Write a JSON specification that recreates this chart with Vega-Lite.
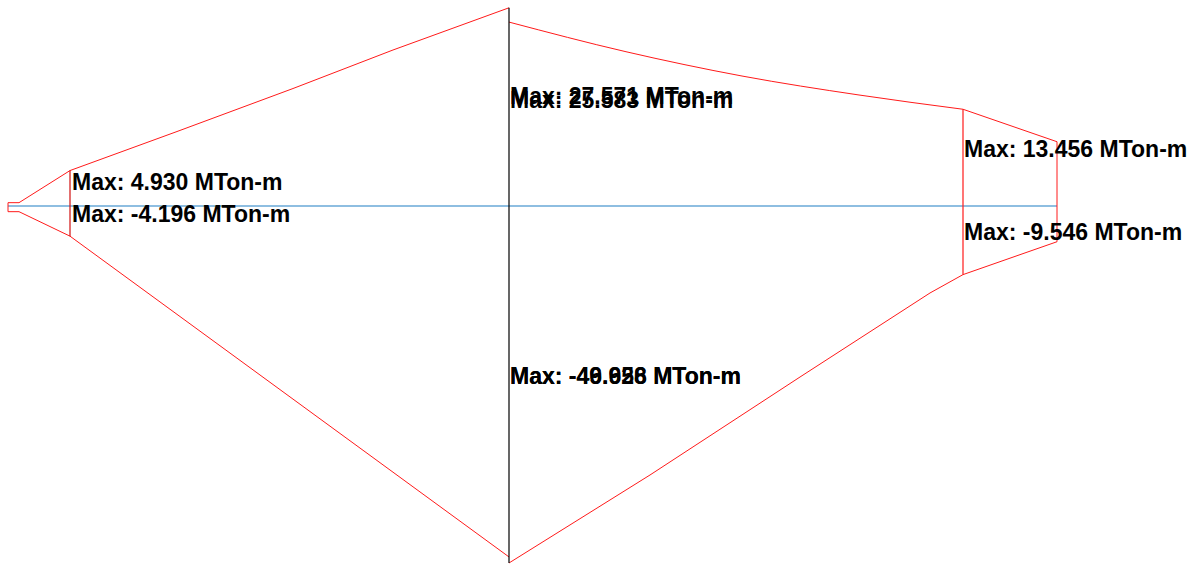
{
  "$schema": "https://vega.github.io/schema/vega-lite/v6.json",
  "width": 1202,
  "height": 565,
  "autosize": {"type": "fit", "contains": "padding"},
  "padding": 0,
  "background": "white",
  "config": {"view": {"stroke": null}},
  "datasets": {
    "envelope": [
      {"seg": "topLeft", "ord": 1, "station": 8, "moment": 0.46},
      {"seg": "topLeft", "ord": 2, "station": 19, "moment": 0.46},
      {"seg": "topLeft", "ord": 3, "station": 70, "moment": 4.93},
      {"seg": "topLeft", "ord": 4, "station": 177, "moment": 10.36},
      {"seg": "topLeft", "ord": 5, "station": 293, "moment": 16.34},
      {"seg": "topLeft", "ord": 6, "station": 393, "moment": 21.7},
      {"seg": "topLeft", "ord": 7, "station": 509, "moment": 27.571},
      {"seg": "topRightCurve", "ord": 8, "station": 509, "moment": 25.583},
      {"seg": "topRightCurve", "ord": 9, "station": 626, "moment": 21.46},
      {"seg": "topRightCurve", "ord": 10, "station": 742, "moment": 18.08},
      {"seg": "topRightCurve", "ord": 11, "station": 859, "moment": 15.44},
      {"seg": "topRightCurve", "ord": 12, "station": 963, "moment": 13.456},
      {"seg": "rightEnd", "ord": 12, "station": 963, "moment": 13.456},
      {"seg": "rightEnd", "ord": 13, "station": 1057, "moment": 8.94},
      {"seg": "rightEnd", "ord": 14, "station": 1057, "moment": -4.97},
      {"seg": "rightEnd", "ord": 15, "station": 963, "moment": -9.546},
      {"seg": "bottomRight", "ord": 15, "station": 963, "moment": -9.546},
      {"seg": "bottomRight", "ord": 16, "station": 930, "moment": -12.1},
      {"seg": "bottomRight", "ord": 17, "station": 800, "moment": -23.79},
      {"seg": "bottomRight", "ord": 18, "station": 650, "moment": -37.42},
      {"seg": "bottomRight", "ord": 19, "station": 509, "moment": -49.66},
      {"seg": "bottomLeft", "ord": 20, "station": 509, "moment": -48.82},
      {"seg": "bottomLeft", "ord": 21, "station": 70, "moment": -4.196},
      {"seg": "bottomLeft", "ord": 22, "station": 19, "moment": -0.79},
      {"seg": "bottomLeft", "ord": 23, "station": 8, "moment": -0.79},
      {"seg": "bottomLeft", "ord": 24, "station": 8, "moment": 0.46}
    ],
    "verticals": [
      {"station": 70, "top": 4.93, "bottom": -4.196, "kind": "a"},
      {"station": 509, "top": 27.571, "bottom": -49.66, "kind": "b"},
      {"station": 963, "top": 13.456, "bottom": -9.546, "kind": "c"}
    ],
    "axis": [
      {"start": 8, "end": 1057, "moment": 0}
    ],
    "labels": [
      {"station": 72, "moment": 2.226, "label": "Max: 4.930 MTon-m"},
      {"station": 72, "moment": -2.226, "label": "Max: -4.196 MTon-m"},
      {"station": 510, "moment": 14.19, "label": "Max: 27.571 MTon-m"},
      {"station": 510, "moment": 13.7, "label": "Max: 25.583 MTon-m"},
      {"station": 510, "moment": -24.76, "label": "Max: -46.658 MTon-m"},
      {"station": 510, "moment": -24.83, "label": "Max: -49.926 MTon-m"},
      {"station": 964, "moment": 6.82, "label": "Max: 13.456 MTon-m"},
      {"station": 964, "moment": -4.73, "label": "Max: -9.546 MTon-m"}
    ]
  },
  "layer": [
    {
      "data": {"name": "axis"},
      "mark": {"type": "rule", "color": "#1f7fc4", "strokeWidth": 1.2},
      "encoding": {
        "x": {"field": "start", "type": "quantitative", "scale": {"domain": [0, 1202], "nice": false, "zero": false}, "axis": null},
        "x2": {"field": "end"},
        "y": {"field": "moment", "type": "quantitative", "scale": {"domain": [-49.94, 28.655], "nice": false, "zero": false}, "axis": null}
      }
    },
    {
      "data": {"name": "envelope"},
      "transform": [{"filter": "datum.seg !== 'topRightCurve'"}],
      "mark": {"type": "line", "color": "#ff1a1a", "strokeWidth": 1},
      "encoding": {
        "x": {"field": "station", "type": "quantitative"},
        "y": {"field": "moment", "type": "quantitative"},
        "detail": {"field": "seg", "type": "nominal"},
        "order": {"field": "ord", "type": "quantitative"}
      }
    },
    {
      "data": {"name": "envelope"},
      "transform": [{"filter": "datum.seg === 'topRightCurve'"}],
      "mark": {"type": "line", "color": "#ff1a1a", "strokeWidth": 1, "interpolate": "monotone"},
      "encoding": {
        "x": {"field": "station", "type": "quantitative"},
        "y": {"field": "moment", "type": "quantitative"},
        "order": {"field": "ord", "type": "quantitative"}
      }
    },
    {
      "data": {"name": "verticals"},
      "mark": {"type": "rule", "strokeWidth": 1.2},
      "encoding": {
        "x": {"field": "station", "type": "quantitative"},
        "y": {"field": "top", "type": "quantitative"},
        "y2": {"field": "bottom"},
        "color": {"field": "kind", "type": "nominal", "scale": {"domain": ["a", "b", "c"], "range": ["#d01010", "#000000", "#ff1a1a"]}, "legend": null}
      }
    },
    {
      "data": {"name": "labels"},
      "mark": {"type": "text", "align": "left", "baseline": "alphabetic", "font": "Liberation Sans", "fontWeight": "bold", "fontSize": 23, "color": "#000000"},
      "encoding": {
        "x": {"field": "station", "type": "quantitative"},
        "y": {"field": "moment", "type": "quantitative"},
        "text": {"field": "label"}
      }
    }
  ]
}
